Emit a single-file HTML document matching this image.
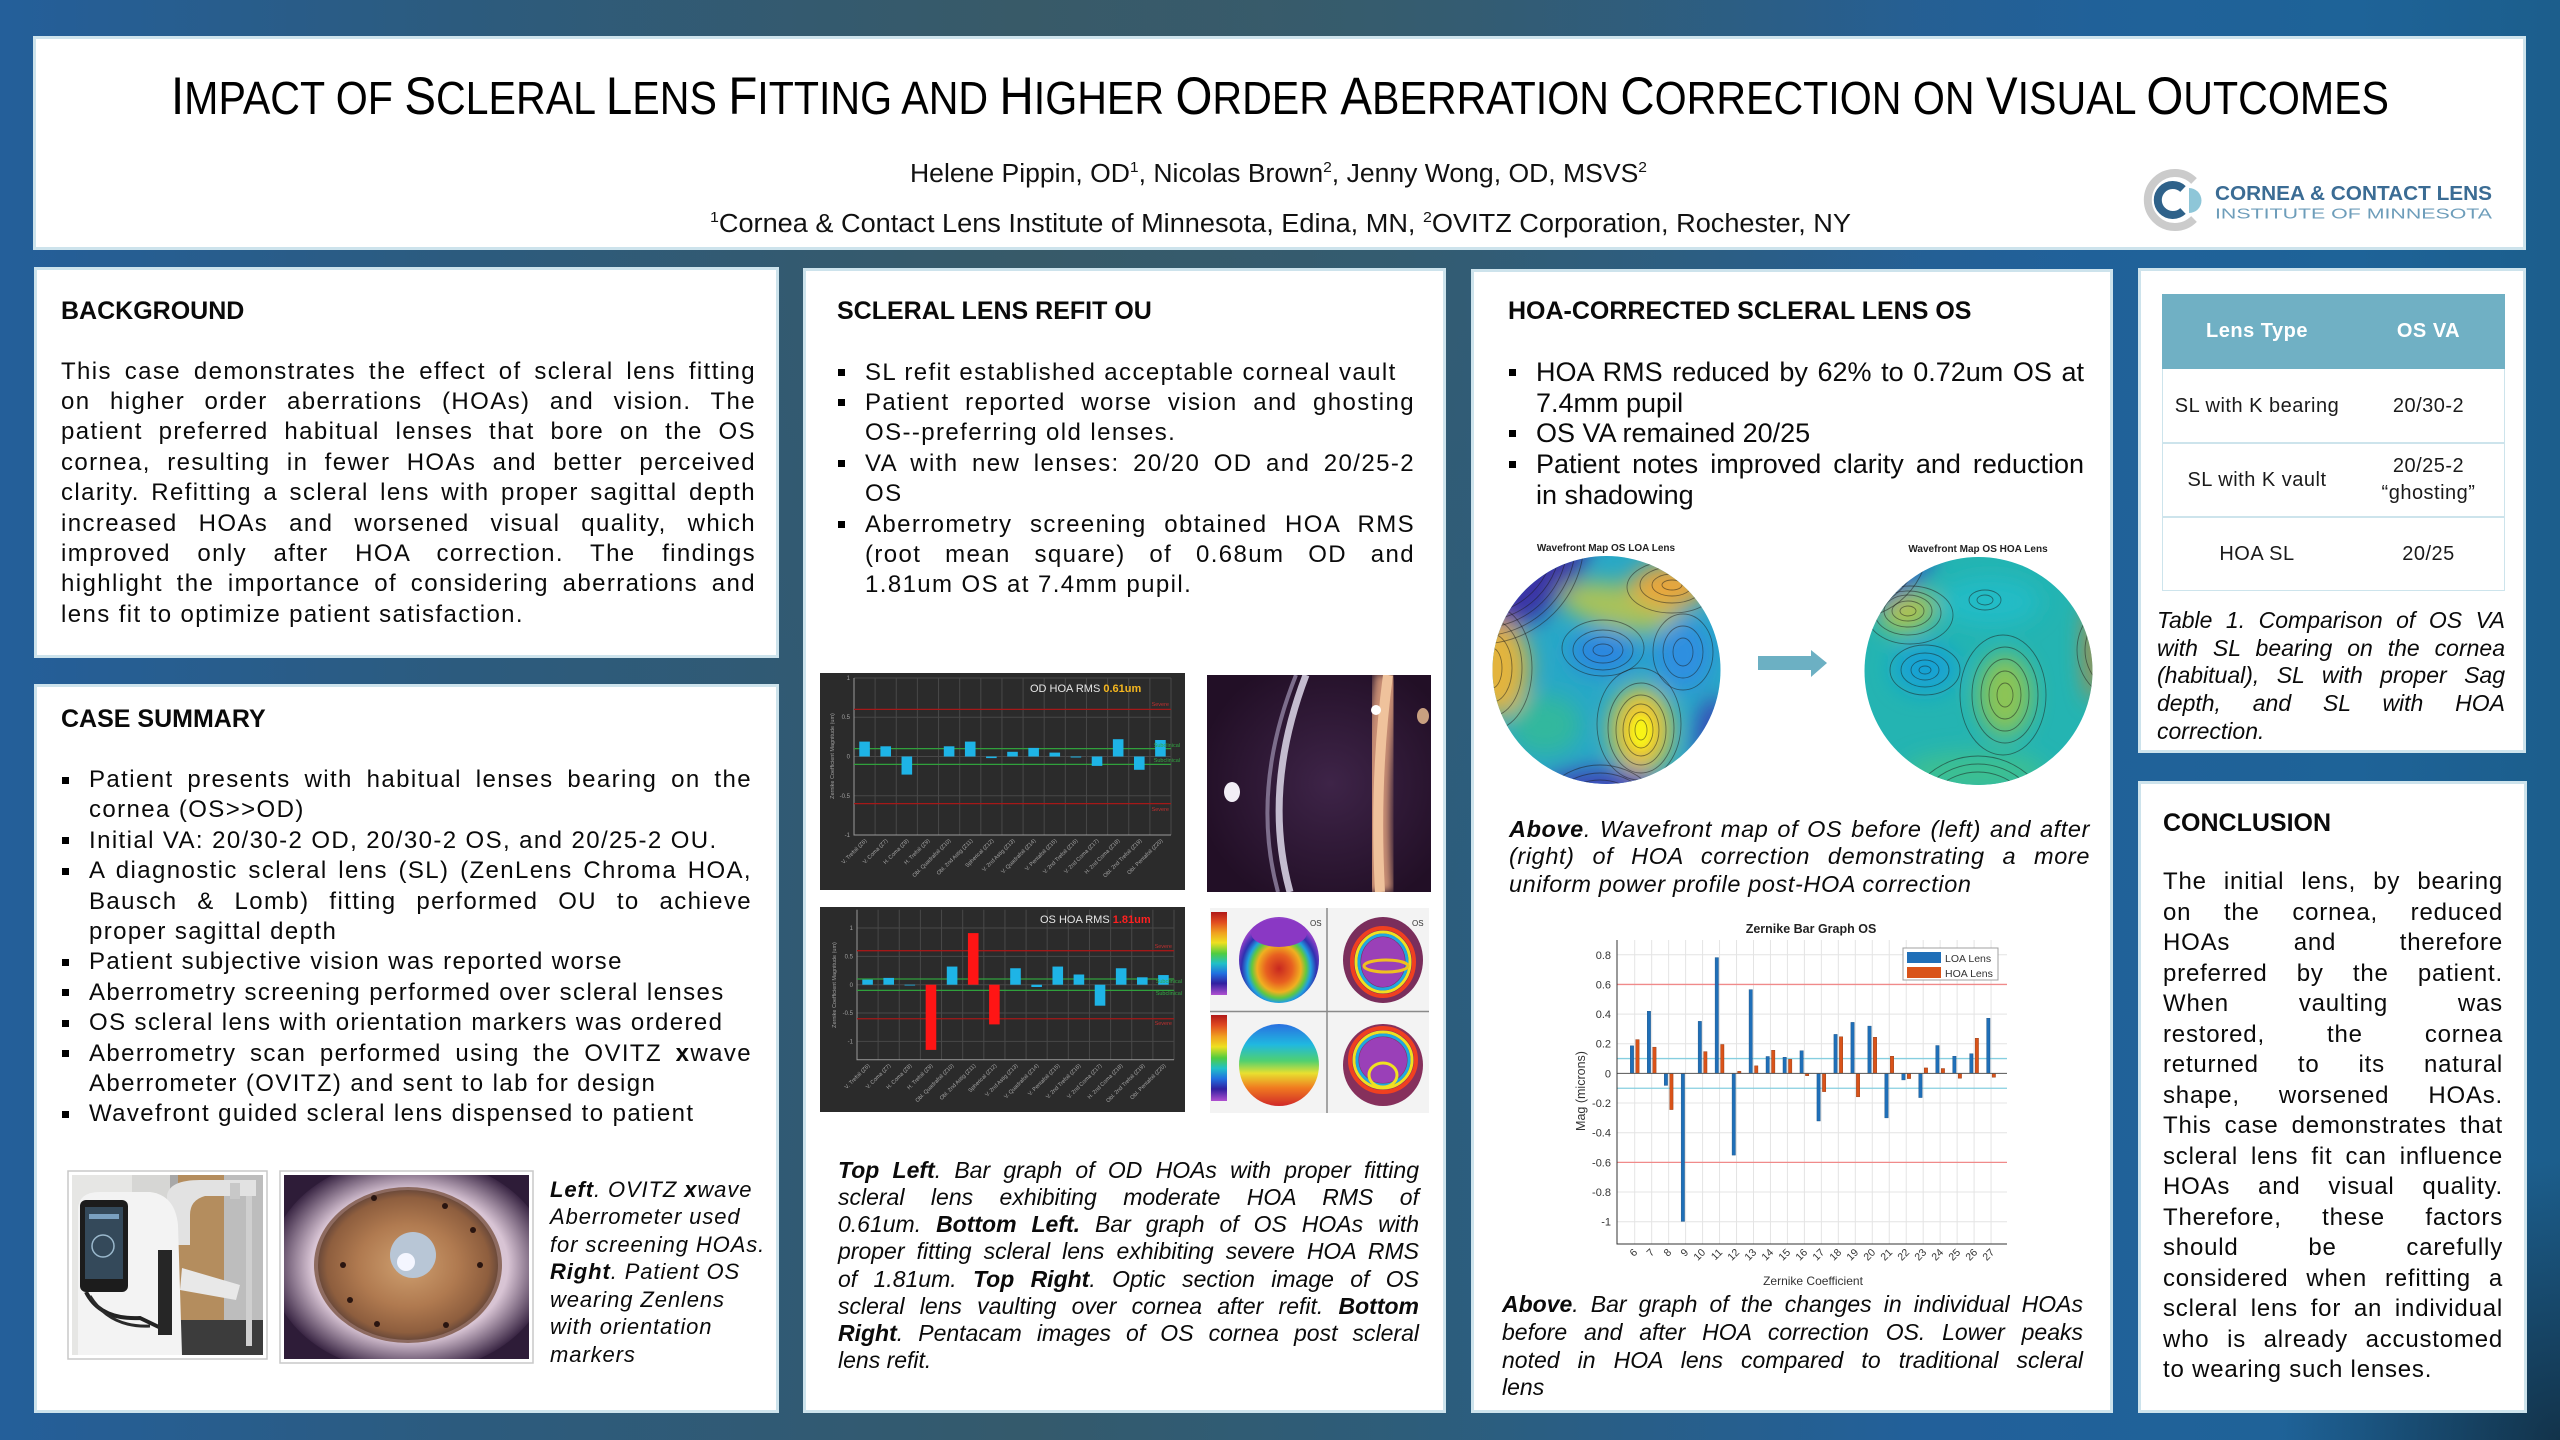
<!DOCTYPE html>
<html><head><meta charset="utf-8"><style>
html,body{margin:0;padding:0}
body{width:2560px;height:1440px;position:relative;overflow:hidden;font-family:"Liberation Sans",Arial,sans-serif;color:#0a0a0a;
background:
radial-gradient(circle at 100% 100%, rgba(16,40,58,.8) 0, rgba(16,40,58,0) 280px),
radial-gradient(ellipse at 50% 0%, rgba(62,90,98,.55) 0, rgba(62,90,98,0) 45%),
linear-gradient(90deg,#245f9a 0%,#2c5b7e 18%,#345a6c 40%,#2d5d7a 55%,#22609a 75%,#1e6398 92%,#1c5e8c 100%);}
.p{position:absolute;background:#fff;border:3px solid #cde3ec;box-sizing:border-box}
.a{position:absolute}
.hd{font-weight:700;font-size:25px;line-height:30px;white-space:nowrap}
.bd{font-size:24px;line-height:30.4px;letter-spacing:1.4px}
.bd div,.cap div{text-align:justify;text-align-last:justify}
.bd div.l,.cap div.l{text-align-last:left}
.li{position:relative}
.li::before{content:"";position:absolute;left:-27px;top:11.5px;width:7px;height:7px;background:#000}
.cap{font-style:italic}
.th{color:#fff;font-weight:700;font-size:20px;text-align:center;letter-spacing:.5px}
.td{font-size:20px;text-align:center;color:#1a1a1a;letter-spacing:.5px}
</style></head><body>

<div class="p" style="left:33px;top:36px;width:2493px;height:214px"></div>
<div class="p" style="left:34px;top:267px;width:745px;height:391px"></div>
<div class="p" style="left:34px;top:684px;width:745px;height:729px"></div>
<div class="p" style="left:803px;top:268px;width:643px;height:1145px"></div>
<div class="p" style="left:1471px;top:269px;width:642px;height:1144px"></div>
<div class="p" style="left:2138px;top:268px;width:388px;height:485px"></div>
<div class="p" style="left:2138px;top:781px;width:389px;height:632px"></div>

<svg class="a" style="left:0;top:0" width="2560" height="1440" viewBox="0 0 2560 1440" xmlns="http://www.w3.org/2000/svg" font-family="Liberation Sans, Arial, sans-serif">
<defs>
<filter id="bl" x="-50%" y="-50%" width="200%" height="200%"><feGaussianBlur stdDeviation="11"/></filter>
<filter id="bl2" x="-50%" y="-50%" width="200%" height="200%"><feGaussianBlur stdDeviation="4"/></filter>
<clipPath id="cL"><circle cx="1606.5" cy="670" r="114"/></clipPath>
<clipPath id="cR"><circle cx="1978.5" cy="671" r="114"/></clipPath>
<clipPath id="cOpt"><rect x="1207" y="675" width="224" height="217"/></clipPath>
<clipPath id="cP1"><rect x="72" y="1175" width="191" height="180"/></clipPath>
<clipPath id="cP2"><rect x="284" y="1175" width="245" height="184"/></clipPath>
<linearGradient id="cbar" x1="0" y1="0" x2="0" y2="1">
<stop offset="0" stop-color="#b01818"/><stop offset=".12" stop-color="#e04a20"/><stop offset=".25" stop-color="#f0a020"/><stop offset=".37" stop-color="#eee020"/><stop offset=".5" stop-color="#50cc40"/><stop offset=".62" stop-color="#20c0c8"/><stop offset=".74" stop-color="#2070e0"/><stop offset=".86" stop-color="#3020a0"/><stop offset="1" stop-color="#b050d0"/></linearGradient>
<radialGradient id="tlE" cx=".5" cy=".6" r=".55"><stop offset="0" stop-color="#c82820"/><stop offset=".3" stop-color="#e86020"/><stop offset=".5" stop-color="#f0b020"/><stop offset=".62" stop-color="#60c840"/><stop offset=".72" stop-color="#20a0e0"/><stop offset=".85" stop-color="#3030b0"/><stop offset="1" stop-color="#9040c8"/></radialGradient>
<linearGradient id="blE" x1="0" y1="0" x2="0" y2="1"><stop offset="0" stop-color="#2a70e0"/><stop offset=".25" stop-color="#20b8e0"/><stop offset=".45" stop-color="#50d070"/><stop offset=".6" stop-color="#e8e030"/><stop offset=".78" stop-color="#f07a20"/><stop offset="1" stop-color="#d02828"/></linearGradient>
<radialGradient id="iris" cx=".5" cy=".5" r=".5"><stop offset="0" stop-color="#cfa070"/><stop offset=".55" stop-color="#b07a50"/><stop offset=".9" stop-color="#8e5e3e"/><stop offset="1" stop-color="#6c4a3a"/></radialGradient>
<radialGradient id="scl" cx=".5" cy=".5" r=".5"><stop offset="0" stop-color="#ecdfe8"/><stop offset=".7" stop-color="#d8c4d4"/><stop offset="1" stop-color="#3a2644"/></radialGradient>
<radialGradient id="optg" cx=".55" cy=".5" r=".6"><stop offset="0" stop-color="#3e2448"/><stop offset="1" stop-color="#220f26"/></radialGradient>
</defs>

<!-- Title -->
<text x="171" y="114" font-size="53" textLength="2218" lengthAdjust="spacingAndGlyphs" fill="#000">I<tspan font-size="46">MPACT OF </tspan>S<tspan font-size="46">CLERAL </tspan>L<tspan font-size="46">ENS </tspan>F<tspan font-size="46">ITTING AND </tspan>H<tspan font-size="46">IGHER </tspan>O<tspan font-size="46">RDER </tspan>A<tspan font-size="46">BERRATION </tspan>C<tspan font-size="46">ORRECTION ON </tspan>V<tspan font-size="46">ISUAL </tspan>O<tspan font-size="46">UTCOMES</tspan></text>
<text x="910" y="182" font-size="25.5" textLength="737" lengthAdjust="spacingAndGlyphs" fill="#111">Helene Pippin, OD<tspan font-size="15" dy="-10">1</tspan><tspan dy="10">, Nicolas Brown</tspan><tspan font-size="15" dy="-10">2</tspan><tspan dy="10">, Jenny Wong, OD, MSVS</tspan><tspan font-size="15" dy="-10">2</tspan></text>
<text x="710" y="232" font-size="25.5" textLength="1141" lengthAdjust="spacingAndGlyphs" fill="#111"><tspan font-size="15" dy="-10">1</tspan><tspan dy="10">Cornea &amp; Contact Lens Institute of Minnesota, Edina, MN, </tspan><tspan font-size="15" dy="-10">2</tspan><tspan dy="10">OVITZ Corporation, Rochester, NY</tspan></text>

<!-- Logo -->
<path d="M2194 181 A27 27 0 1 0 2194 219" fill="none" stroke="#cbcbcb" stroke-width="8"/>
<path d="M2183 189 A15 15 0 1 0 2183 211" fill="none" stroke="#2f628a" stroke-width="8"/>
<path d="M2189 188 A12.5 12.5 0 0 1 2189 213 Z" fill="#8ec6d8"/>
<text x="2215" y="200" font-size="20.5" font-weight="bold" fill="#3b6c94" textLength="277" lengthAdjust="spacingAndGlyphs">CORNEA &amp; CONTACT LENS</text>
<text x="2215" y="218.5" font-size="15" fill="#6d9dba" textLength="277" lengthAdjust="spacingAndGlyphs">INSTITUTE OF MINNESOTA</text>

<!-- Photo 1: aberrometer -->
<rect x="68" y="1171" width="199" height="188" fill="#fff" stroke="#c8c8c8" stroke-width="1.5"/>
<g clip-path="url(#cP1)">
<rect x="72" y="1175" width="191" height="180" fill="#d6d6d4"/>
<rect x="72" y="1175" width="60" height="180" fill="#e6e6e4"/>
<rect x="170" y="1175" width="8" height="160" fill="#a8a8a8"/>
<rect x="178" y="1175" width="46" height="150" fill="#b48d5e"/>
<rect x="224" y="1175" width="39" height="150" fill="#bdbdbd"/>
<rect x="150" y="1320" width="113" height="35" fill="#3c3c3c"/>
<path d="M167 1195 Q170 1180 200 1180 L256 1180 L256 1196 L205 1196 Q190 1200 190 1215 L190 1245 L167 1245 Z" fill="#e2e2e2"/>
<rect x="230" y="1183" width="10" height="16" fill="#c8c8c8"/>
<rect x="246" y="1196" width="6" height="150" fill="#cfcfcf"/>
<path d="M78 1210 Q78 1192 100 1192 L150 1192 Q175 1195 178 1225 L182 1355 L78 1355 Z" fill="#f3f3f3"/>
<rect x="80" y="1200" width="48" height="92" rx="6" fill="#1c1c1c"/>
<rect x="85" y="1207" width="38" height="72" fill="#34495a"/>
<circle cx="103" cy="1246" r="11" fill="none" stroke="#9ab8cc" stroke-width="1.5"/>
<rect x="89" y="1214" width="30" height="5" fill="#7aa0c0"/>
<path d="M86 1292 Q100 1320 140 1318 L165 1330" stroke="#222" stroke-width="4" fill="none"/>
<path d="M90 1296 Q110 1328 150 1326" stroke="#2a2a2a" stroke-width="3" fill="none"/>
<rect x="158" y="1250" width="14" height="85" fill="#262626"/>
<path d="M182 1268 L240 1285 L236 1300 L180 1290 Z" fill="#e8e8e8"/>
</g>

<!-- Photo 2: eye -->
<rect x="280" y="1171" width="253" height="192" fill="#fff" stroke="#c8c8c8" stroke-width="1.5"/>
<g clip-path="url(#cP2)">
<rect x="284" y="1175" width="245" height="184" fill="#2e1c38"/>
<ellipse cx="410" cy="1265" rx="140" ry="108" fill="url(#scl)"/>
<ellipse cx="408" cy="1265" rx="94" ry="78" fill="#7a5442" opacity=".8"/>
<ellipse cx="408" cy="1265" rx="90" ry="75" fill="url(#iris)"/>
<circle cx="413" cy="1255" r="23" fill="#b8c6d6"/>
<circle cx="406" cy="1262" r="9" fill="#f4f6ff"/>
<g fill="#2a1510">
<circle cx="374" cy="1198" r="3"/><circle cx="445" cy="1206" r="3"/><circle cx="473" cy="1230" r="3"/><circle cx="480" cy="1265" r="3"/>
<circle cx="446" cy="1325" r="3"/><circle cx="377" cy="1324" r="3"/><circle cx="350" cy="1300" r="3"/><circle cx="343" cy="1265" r="3"/></g>
</g>

<!-- OD bar chart -->
<rect x="820" y="673" width="365" height="217" fill="#2b2b2b"/>
<path d="M854 678V835M875.13 678V835M896.27 678V835M917.4 678V835M938.53 678V835M959.67 678V835M980.8 678V835M1001.93 678V835M1023.07 678V835M1044.2 678V835M1065.33 678V835M1086.47 678V835M1107.6 678V835M1128.73 678V835M1149.87 678V835M1171 678V835M854 678H1171M854 717.25H1171M854 756.5H1171M854 795.75H1171" stroke="#484848" stroke-width="1"/>
<path d="M854 678V835H1171" stroke="#9a9a9a" stroke-width="1" fill="none"/>
<path d="M854 709.4H1171M854 803.6H1171" stroke="#a51818" stroke-width="1.3"/>
<path d="M854 748.65H1171M854 764.35H1171" stroke="#30a03c" stroke-width="1.2"/>
<g fill="#1eb4e6">
<rect x="859.27" y="741.6" width="10.6" height="14.9"/><rect x="880.4" y="746.3" width="10.6" height="10.2"/><rect x="901.53" y="756.5" width="10.6" height="18.1"/>
<rect x="943.8" y="746.3" width="10.6" height="10.2"/><rect x="964.93" y="741.6" width="10.6" height="14.9"/><rect x="986.07" y="756.5" width="10.6" height="1.6"/>
<rect x="1007.2" y="751.8" width="10.6" height="4.7"/><rect x="1028.33" y="747.9" width="10.6" height="8.6"/><rect x="1049.47" y="752.6" width="10.6" height="3.9"/>
<rect x="1070.6" y="756.5" width="10.6" height="1"/><rect x="1091.73" y="756.5" width="10.6" height="9.4"/><rect x="1112.87" y="739.2" width="10.6" height="17.3"/>
<rect x="1134" y="756.5" width="10.6" height="13.3"/><rect x="1155.13" y="740" width="10.6" height="16.5"/></g>
<g font-size="5.5" fill="#c03030" text-anchor="end"><text x="1169" y="706">Severe</text><text x="1169" y="811">Severe</text></g>
<g font-size="5.5" fill="#34a844" text-anchor="end"><text x="1180" y="747">Subclinical</text><text x="1180" y="762">Subclinical</text></g>
<g font-size="6" fill="#a0a0a0" text-anchor="end"><text x="850" y="680">1</text><text x="850" y="719">0.5</text><text x="850" y="758.5">0</text><text x="850" y="798">-0.5</text><text x="850" y="837">-1</text></g>
<text transform="translate(834,756) rotate(-90)" font-size="5.5" fill="#a0a0a0" text-anchor="middle">Zernike Coefficient Magnitude (um)</text>
<g font-size="5.5" fill="#a8a8a8" text-anchor="end">
<text transform="translate(867,841) rotate(-45)">V. Trefoil (Z6)</text>
<text transform="translate(888,841) rotate(-45)">V. Coma (Z7)</text>
<text transform="translate(909,841) rotate(-45)">H. Coma (Z8)</text>
<text transform="translate(930,841) rotate(-45)">H. Trefoil (Z9)</text>
<text transform="translate(951,841) rotate(-45)">Obl. Quadrafoil (Z10)</text>
<text transform="translate(973,841) rotate(-45)">Obl. 2nd Astig (Z11)</text>
<text transform="translate(994,841) rotate(-45)">Spherical (Z12)</text>
<text transform="translate(1015,841) rotate(-45)">V. 2nd Astig (Z13)</text>
<text transform="translate(1036,841) rotate(-45)">V. Quadrafoil (Z14)</text>
<text transform="translate(1057,841) rotate(-45)">V. Pentafoil (Z15)</text>
<text transform="translate(1078,841) rotate(-45)">V. 2nd Trefoil (Z16)</text>
<text transform="translate(1099,841) rotate(-45)">V. 2nd Coma (Z17)</text>
<text transform="translate(1120,841) rotate(-45)">H. 2nd Coma (Z18)</text>
<text transform="translate(1142,841) rotate(-45)">Obl. 2nd Trefoil (Z19)</text>
<text transform="translate(1163,841) rotate(-45)">Obl. Pentafoil (Z20)</text></g>
<text x="1030" y="692" font-size="11" fill="#e6e6e6">OD HOA RMS <tspan fill="#f5b71f" font-weight="bold">0.61um</tspan></text>

<!-- OS bar chart -->
<rect x="820" y="907" width="365" height="205" fill="#2b2b2b"/>
<path d="M857 909.7V1059.7M878.13 909.7V1059.7M899.27 909.7V1059.7M920.4 909.7V1059.7M941.53 909.7V1059.7M962.67 909.7V1059.7M983.8 909.7V1059.7M1004.93 909.7V1059.7M1026.07 909.7V1059.7M1047.2 909.7V1059.7M1068.33 909.7V1059.7M1089.47 909.7V1059.7M1110.6 909.7V1059.7M1131.73 909.7V1059.7M1152.87 909.7V1059.7M1174 909.7V1059.7M857 928H1174M857 956.35H1174M857 984.7H1174M857 1013.05H1174M857 1041.4H1174" stroke="#484848" stroke-width="1"/>
<path d="M857 909.7V1059.7H1174" stroke="#9a9a9a" stroke-width="1" fill="none"/>
<path d="M857 950.68H1174M857 1018.72H1174" stroke="#a51818" stroke-width="1.3"/>
<path d="M857 979.03H1174M857 990.37H1174" stroke="#30a03c" stroke-width="1.2"/>
<g fill="#1eb4e6">
<rect x="862.27" y="979.6" width="10.6" height="5.1"/><rect x="883.4" y="977.9" width="10.6" height="6.8"/><rect x="904.53" y="984.7" width="10.6" height="0.8"/>
<rect x="946.8" y="966.56" width="10.6" height="18.14"/><rect x="1010.2" y="968.26" width="10.6" height="16.44"/><rect x="1031.33" y="984.7" width="10.6" height="2.3"/>
<rect x="1052.47" y="966.56" width="10.6" height="18.14"/><rect x="1073.6" y="974.5" width="10.6" height="10.2"/><rect x="1094.73" y="984.7" width="10.6" height="21"/>
<rect x="1115.87" y="968.26" width="10.6" height="16.44"/><rect x="1137" y="977.3" width="10.6" height="7.4"/><rect x="1158.13" y="975.06" width="10.6" height="9.64"/></g>
<g fill="#ff1515"><rect x="925.67" y="984.7" width="10.6" height="65.2"/><rect x="967.93" y="933.1" width="10.6" height="51.6"/><rect x="989.07" y="984.7" width="10.6" height="39.7"/></g>
<g font-size="5.5" fill="#c03030" text-anchor="end"><text x="1172" y="948">Severe</text><text x="1172" y="1025">Severe</text></g>
<g font-size="5.5" fill="#34a844" text-anchor="end"><text x="1182" y="983">Subclinical</text><text x="1182" y="995">Subclinical</text></g>
<g font-size="6" fill="#a0a0a0" text-anchor="end"><text x="853" y="930">1</text><text x="853" y="958.5">0.5</text><text x="853" y="987">0</text><text x="853" y="1015">-0.5</text><text x="853" y="1043.5">-1</text></g>
<text transform="translate(836,985) rotate(-90)" font-size="5.5" fill="#a0a0a0" text-anchor="middle">Zernike Coefficient Magnitude (um)</text>
<g font-size="5.5" fill="#a8a8a8" text-anchor="end">
<text transform="translate(870,1066) rotate(-45)">V. Trefoil (Z6)</text>
<text transform="translate(891,1066) rotate(-45)">V. Coma (Z7)</text>
<text transform="translate(912,1066) rotate(-45)">H. Coma (Z8)</text>
<text transform="translate(933,1066) rotate(-45)">H. Trefoil (Z9)</text>
<text transform="translate(954,1066) rotate(-45)">Obl. Quadrafoil (Z10)</text>
<text transform="translate(976,1066) rotate(-45)">Obl. 2nd Astig (Z11)</text>
<text transform="translate(997,1066) rotate(-45)">Spherical (Z12)</text>
<text transform="translate(1018,1066) rotate(-45)">V. 2nd Astig (Z13)</text>
<text transform="translate(1039,1066) rotate(-45)">V. Quadrafoil (Z14)</text>
<text transform="translate(1060,1066) rotate(-45)">V. Pentafoil (Z15)</text>
<text transform="translate(1081,1066) rotate(-45)">V. 2nd Trefoil (Z16)</text>
<text transform="translate(1102,1066) rotate(-45)">V. 2nd Coma (Z17)</text>
<text transform="translate(1123,1066) rotate(-45)">H. 2nd Coma (Z18)</text>
<text transform="translate(1145,1066) rotate(-45)">Obl. 2nd Trefoil (Z19)</text>
<text transform="translate(1166,1066) rotate(-45)">Obl. Pentafoil (Z20)</text></g>
<text x="1040" y="923" font-size="11" fill="#e6e6e6">OS HOA RMS <tspan fill="#ff2020" font-weight="bold">1.81um</tspan></text>

<!-- Optic section photo -->
<g clip-path="url(#cOpt)">
<rect x="1207" y="675" width="224" height="217" fill="url(#optg)"/>
<path d="M1296 675 Q1250 790 1278 892" stroke="#7d6e8c" stroke-width="4" fill="none"/>
<path d="M1306 675 Q1262 790 1290 892" stroke="#c4bccf" stroke-width="7" fill="none"/>
<path d="M1388 675 Q1372 780 1380 892" stroke="#c98f74" stroke-width="26" fill="none" filter="url(#bl2)"/>
<path d="M1388 675 Q1374 780 1380 892" stroke="#efc29c" stroke-width="10" fill="none"/>
<ellipse cx="1232" cy="792" rx="8" ry="10" fill="#f2eef6"/>
<circle cx="1376" cy="710" r="5" fill="#fff"/>
<ellipse cx="1423" cy="716" rx="6" ry="8" fill="#c8a080"/>
</g>

<!-- Pentacam -->
<rect x="1210" y="908" width="219" height="205" fill="#f3f3f3"/>
<path d="M1327 908V1113M1210 1011.5H1429" stroke="#8a8a8a" stroke-width="1.5"/>
<rect x="1211" y="912" width="16" height="83" fill="url(#cbar)"/>
<rect x="1211" y="1015" width="16" height="86" fill="url(#cbar)"/>
<ellipse cx="1279" cy="960" rx="40" ry="43" fill="url(#tlE)"/>
<ellipse cx="1279" cy="933" rx="28" ry="14" fill="#8a38c4"/>
<ellipse cx="1383" cy="960" rx="40" ry="43" fill="#7a2e5c"/>
<ellipse cx="1383" cy="962" rx="31" ry="34" fill="none" stroke="#f04020" stroke-width="4"/>
<ellipse cx="1383" cy="962" rx="27" ry="30" fill="none" stroke="#f0e020" stroke-width="3"/>
<ellipse cx="1383" cy="962" rx="24" ry="27" fill="none" stroke="#20a8e0" stroke-width="3"/>
<ellipse cx="1383" cy="962" rx="22" ry="25" fill="#9a40b8"/>
<ellipse cx="1386" cy="966" rx="22" ry="6" fill="none" stroke="#f0c020" stroke-width="3"/>
<ellipse cx="1279" cy="1065" rx="40" ry="41" fill="url(#blE)"/>
<ellipse cx="1383" cy="1065" rx="40" ry="41" fill="#86305c"/>
<ellipse cx="1383" cy="1060" rx="33" ry="32" fill="none" stroke="#f04020" stroke-width="4"/>
<ellipse cx="1383" cy="1060" rx="29" ry="28" fill="none" stroke="#f0e020" stroke-width="3"/>
<ellipse cx="1383" cy="1060" rx="26" ry="25" fill="none" stroke="#20a8e0" stroke-width="3"/>
<ellipse cx="1383" cy="1060" rx="24" ry="23" fill="#9a40b8"/>
<ellipse cx="1383" cy="1075" rx="14" ry="12" fill="none" stroke="#f0e020" stroke-width="3"/>
<g font-size="8" fill="#333"><text x="1310" y="926">OS</text><text x="1412" y="926">OS</text></g>

<!-- Wavefront maps -->
<g clip-path="url(#cL)">
<rect x="1490" y="554" width="235" height="235" fill="#28a8c6"/>
<g filter="url(#bl)">
<ellipse cx="1525" cy="578" rx="75" ry="40" transform="rotate(-40 1525 578)" fill="#3a36a6"/>
<ellipse cx="1497" cy="668" rx="32" ry="48" fill="#e3b43c"/>
<ellipse cx="1620" cy="607" rx="62" ry="22" transform="rotate(12 1620 607)" fill="#a9c25a"/>
<ellipse cx="1670" cy="586" rx="40" ry="22" fill="#eaa63a"/>
<ellipse cx="1603" cy="652" rx="34" ry="22" fill="#2a86e0"/>
<ellipse cx="1683" cy="655" rx="30" ry="36" fill="#2d8fe0"/>
<ellipse cx="1545" cy="725" rx="36" ry="30" fill="#30b89e"/>
<ellipse cx="1641" cy="730" rx="30" ry="42" fill="#f0c830"/>
<ellipse cx="1600" cy="790" rx="62" ry="22" fill="#3c48b8"/>
<ellipse cx="1714" cy="742" rx="18" ry="45" fill="#3747b5"/>
</g>
<ellipse cx="1641" cy="732" rx="11" ry="17" fill="#f8f418" filter="url(#bl2)"/>
<g fill="none" stroke="#1a1a1a" stroke-opacity=".5" stroke-width=".9">
<ellipse cx="1641" cy="730" rx="6" ry="10"/><ellipse cx="1641" cy="730" rx="12" ry="18"/><ellipse cx="1641" cy="730" rx="18" ry="26"/><ellipse cx="1641" cy="730" rx="25" ry="35"/><ellipse cx="1641" cy="728" rx="33" ry="45"/><ellipse cx="1639" cy="724" rx="42" ry="56"/>
<ellipse cx="1603" cy="650" rx="10" ry="6"/><ellipse cx="1603" cy="650" rx="20" ry="13"/><ellipse cx="1603" cy="650" rx="30" ry="20"/><ellipse cx="1603" cy="648" rx="41" ry="28"/>
<ellipse cx="1683" cy="652" rx="10" ry="14"/><ellipse cx="1683" cy="652" rx="20" ry="26"/><ellipse cx="1683" cy="652" rx="30" ry="38"/>
<ellipse cx="1492" cy="668" rx="10" ry="20"/><ellipse cx="1492" cy="668" rx="20" ry="34"/><ellipse cx="1492" cy="668" rx="30" ry="48"/><ellipse cx="1492" cy="668" rx="40" ry="62"/>
<ellipse cx="1672" cy="585" rx="10" ry="5"/><ellipse cx="1672" cy="585" rx="20" ry="11"/><ellipse cx="1672" cy="585" rx="32" ry="18"/><ellipse cx="1672" cy="587" rx="45" ry="26"/>
<circle cx="1480" cy="540" r="60"/><circle cx="1480" cy="540" r="67"/><circle cx="1480" cy="540" r="74"/><circle cx="1480" cy="540" r="81"/><circle cx="1480" cy="540" r="88"/><circle cx="1480" cy="540" r="96"/><circle cx="1480" cy="540" r="104"/>
<circle cx="1600" cy="835" r="48"/><circle cx="1600" cy="835" r="55"/><circle cx="1600" cy="835" r="62"/><circle cx="1600" cy="835" r="70"/>
<circle cx="1760" cy="760" r="40"/><circle cx="1760" cy="760" r="48"/><circle cx="1760" cy="760" r="56"/>
</g>
</g>
<g clip-path="url(#cR)">
<rect x="1862" y="555" width="235" height="235" fill="#24b4b2"/>
<g filter="url(#bl)">
<ellipse cx="1888" cy="572" rx="55" ry="26" transform="rotate(-35 1888 572)" fill="#2d5cc0"/>
<ellipse cx="1990" cy="602" rx="50" ry="24" fill="#20bcc6"/>
<ellipse cx="1908" cy="612" rx="28" ry="18" transform="rotate(-20 1908 612)" fill="#b5c44a"/>
<ellipse cx="1925" cy="668" rx="32" ry="25" fill="#12a2d4"/>
<ellipse cx="2005" cy="695" rx="26" ry="40" fill="#8cc455"/>
<ellipse cx="2094" cy="650" rx="10" ry="52" fill="#b9893a"/>
<ellipse cx="1975" cy="772" rx="72" ry="20" fill="#3cc092"/>
</g>
<g fill="none" stroke="#1a1a1a" stroke-opacity=".5" stroke-width=".9">
<ellipse cx="1908" cy="611" rx="8" ry="5"/><ellipse cx="1908" cy="611" rx="16" ry="10"/><ellipse cx="1908" cy="611" rx="24" ry="16"/><ellipse cx="1908" cy="613" rx="33" ry="22"/><ellipse cx="1910" cy="615" rx="43" ry="29"/>
<ellipse cx="2005" cy="695" rx="8" ry="12"/><ellipse cx="2005" cy="695" rx="16" ry="24"/><ellipse cx="2005" cy="695" rx="24" ry="36"/><ellipse cx="2005" cy="695" rx="33" ry="48"/><ellipse cx="2003" cy="695" rx="43" ry="60"/>
<ellipse cx="1925" cy="670" rx="6" ry="4"/><ellipse cx="1925" cy="670" rx="14" ry="10"/><ellipse cx="1925" cy="670" rx="24" ry="17"/><ellipse cx="1925" cy="670" rx="35" ry="25"/>
<ellipse cx="1985" cy="600" rx="8" ry="5"/><ellipse cx="1985" cy="600" rx="16" ry="10"/>
<circle cx="1850" cy="540" r="55"/><circle cx="1850" cy="540" r="63"/><circle cx="1850" cy="540" r="71"/><circle cx="1850" cy="540" r="79"/>
<circle cx="1978" cy="832" r="60"/><circle cx="1978" cy="832" r="68"/><circle cx="1978" cy="832" r="76"/>
<circle cx="2130" cy="650" r="45"/><circle cx="2130" cy="650" r="53"/>
</g>
</g>
<text x="1606" y="551" font-size="10" font-weight="bold" text-anchor="middle" fill="#222">Wavefront Map OS LOA Lens</text>
<text x="1978" y="552" font-size="10" font-weight="bold" text-anchor="middle" fill="#222">Wavefront Map OS HOA Lens</text>
<polygon points="1758,656 1811,656 1811,650 1827,663 1811,677 1811,670 1758,670" fill="#6cb0c3"/>

<!-- Zernike bar graph -->
<text x="1811" y="933" font-size="12.5" font-weight="bold" text-anchor="middle" fill="#222">Zernike Bar Graph OS</text>
<path d="M1634.7 940V1244M1651.67 940V1244M1668.64 940V1244M1685.61 940V1244M1702.58 940V1244M1719.55 940V1244M1736.52 940V1244M1753.49 940V1244M1770.46 940V1244M1787.43 940V1244M1804.4 940V1244M1821.37 940V1244M1838.34 940V1244M1855.31 940V1244M1872.28 940V1244M1889.25 940V1244M1906.22 940V1244M1923.19 940V1244M1940.16 940V1244M1957.13 940V1244M1974.1 940V1244M1991.07 940V1244M1617 954.76H2007M1617 1014.08H2007M1617 1043.74H2007M1617 1103.06H2007M1617 1132.72H2007M1617 1192.04H2007M1617 1221.7H2007" stroke="#e4e4e4" stroke-width="1"/>
<path d="M1617 984.42H2007M1617 1162.38H2007" stroke="#f08a8a" stroke-width="1.3"/>
<path d="M1617 1058.57H2007M1617 1088.23H2007" stroke="#86cfe0" stroke-width="1.3"/>
<g fill="#1f6fb8" stroke="#184f80" stroke-width=".4">
<rect x="1630.25" y="1045.82" width="3.4" height="27.58"/><rect x="1647.22" y="1011.26" width="3.4" height="62.14"/><rect x="1664.19" y="1073.4" width="3.4" height="12.01"/><rect x="1681.16" y="1073.4" width="3.4" height="148"/>
<rect x="1698.13" y="1021.35" width="3.4" height="52.05"/><rect x="1715.1" y="957.58" width="3.4" height="115.82"/><rect x="1732.07" y="1073.4" width="3.4" height="81.71"/><rect x="1749.04" y="989.61" width="3.4" height="83.79"/>
<rect x="1766.01" y="1056.49" width="3.4" height="16.91"/><rect x="1782.98" y="1057.24" width="3.4" height="16.16"/><rect x="1799.95" y="1050.71" width="3.4" height="22.69"/><rect x="1816.92" y="1073.4" width="3.4" height="47.6"/>
<rect x="1833.89" y="1034.4" width="3.4" height="39"/><rect x="1850.86" y="1022.38" width="3.4" height="51.02"/><rect x="1867.83" y="1026.09" width="3.4" height="47.31"/><rect x="1884.8" y="1073.4" width="3.4" height="44.49"/>
<rect x="1901.77" y="1073.4" width="3.4" height="6.53"/><rect x="1918.74" y="1073.4" width="3.4" height="24.17"/><rect x="1935.71" y="1045.52" width="3.4" height="27.88"/><rect x="1952.68" y="1056.2" width="3.4" height="17.2"/>
<rect x="1969.65" y="1053.68" width="3.4" height="19.72"/><rect x="1986.62" y="1018.23" width="3.4" height="55.17"/></g>
<g fill="#d95319" stroke="#8a3410" stroke-width=".4">
<rect x="1635.75" y="1039.59" width="3.4" height="33.81"/><rect x="1652.72" y="1047.15" width="3.4" height="26.25"/><rect x="1669.69" y="1073.4" width="3.4" height="36.19"/>
<rect x="1703.63" y="1051.6" width="3.4" height="21.8"/><rect x="1720.6" y="1044.48" width="3.4" height="28.92"/><rect x="1737.57" y="1071.32" width="3.4" height="2.08"/><rect x="1754.54" y="1065.84" width="3.4" height="7.56"/>
<rect x="1771.51" y="1050.27" width="3.4" height="23.13"/><rect x="1788.48" y="1059.31" width="3.4" height="14.09"/><rect x="1805.45" y="1073.4" width="3.4" height="2.37"/><rect x="1822.42" y="1073.4" width="3.4" height="18.24"/>
<rect x="1839.39" y="1036.77" width="3.4" height="36.63"/><rect x="1856.36" y="1073.4" width="3.4" height="23.43"/><rect x="1873.33" y="1037.21" width="3.4" height="36.19"/><rect x="1890.3" y="1056.2" width="3.4" height="17.2"/>
<rect x="1907.27" y="1073.4" width="3.4" height="5.19"/><rect x="1924.24" y="1067.91" width="3.4" height="5.49"/><rect x="1941.21" y="1068.51" width="3.4" height="4.89"/><rect x="1958.18" y="1073.4" width="3.4" height="4.89"/>
<rect x="1975.15" y="1038.25" width="3.4" height="35.15"/><rect x="1992.12" y="1073.4" width="3.4" height="3.86"/></g>
<path d="M1617 1073.4H2007" stroke="#555" stroke-width="1"/>
<path d="M1617 940V1244H2007" stroke="#333" stroke-width="1" fill="none"/>
<g font-size="11" fill="#333" text-anchor="end">
<text x="1611" y="958.8">0.8</text><text x="1611" y="988.4">0.6</text><text x="1611" y="1018">0.4</text><text x="1611" y="1047.7">0.2</text><text x="1611" y="1077.4">0</text>
<text x="1611" y="1107">-0.2</text><text x="1611" y="1136.7">-0.4</text><text x="1611" y="1166.4">-0.6</text><text x="1611" y="1196">-0.8</text><text x="1611" y="1225.7">-1</text></g>
<g font-size="10.5" fill="#333" text-anchor="end">
<text transform="translate(1638,1253) rotate(-45)">6</text><text transform="translate(1655,1253) rotate(-45)">7</text><text transform="translate(1672,1253) rotate(-45)">8</text><text transform="translate(1689,1253) rotate(-45)">9</text>
<text transform="translate(1706,1253) rotate(-45)">10</text><text transform="translate(1723,1253) rotate(-45)">11</text><text transform="translate(1740,1253) rotate(-45)">12</text><text transform="translate(1757,1253) rotate(-45)">13</text>
<text transform="translate(1774,1253) rotate(-45)">14</text><text transform="translate(1791,1253) rotate(-45)">15</text><text transform="translate(1808,1253) rotate(-45)">16</text><text transform="translate(1825,1253) rotate(-45)">17</text>
<text transform="translate(1842,1253) rotate(-45)">18</text><text transform="translate(1859,1253) rotate(-45)">19</text><text transform="translate(1876,1253) rotate(-45)">20</text><text transform="translate(1893,1253) rotate(-45)">21</text>
<text transform="translate(1910,1253) rotate(-45)">22</text><text transform="translate(1927,1253) rotate(-45)">23</text><text transform="translate(1944,1253) rotate(-45)">24</text><text transform="translate(1961,1253) rotate(-45)">25</text>
<text transform="translate(1978,1253) rotate(-45)">26</text><text transform="translate(1995,1253) rotate(-45)">27</text></g>
<text x="1813" y="1285" font-size="12" fill="#333" text-anchor="middle">Zernike Coefficient</text>
<text transform="translate(1585,1091) rotate(-90)" font-size="12.5" fill="#333" text-anchor="middle">Mag (microns)</text>
<rect x="1903" y="948" width="95" height="32" fill="#fff" stroke="#a0a0a0" stroke-width="1"/>
<rect x="1907" y="952" width="34" height="11" fill="#1f6fb8"/>
<rect x="1907" y="967" width="34" height="11" fill="#d95319"/>
<text x="1945" y="962" font-size="10.5" fill="#333">LOA Lens</text>
<text x="1945" y="977" font-size="10.5" fill="#333">HOA Lens</text>
</svg>

<!-- Panel 1 -->
<div class="a hd" style="left:61px;top:296px">BACKGROUND</div>
<div class="a bd" style="left:61px;top:356.5px;width:695px">
<div>This case demonstrates the effect of scleral lens fitting</div>
<div>on higher order aberrations (HOAs) and vision. The</div>
<div>patient preferred habitual lenses that bore on the OS</div>
<div>cornea, resulting in fewer HOAs and better perceived</div>
<div>clarity. Refitting a scleral lens with proper sagittal depth</div>
<div>increased HOAs and worsened visual quality, which</div>
<div>improved only after HOA correction. The findings</div>
<div>highlight the importance of considering aberrations and</div>
<div class="l">lens fit to optimize patient satisfaction.</div>
</div>

<!-- Panel 2 -->
<div class="a hd" style="left:61px;top:703.5px">CASE SUMMARY</div>
<div class="a bd" style="left:89px;top:765px;width:663px">
<div class="li"><div>Patient presents with habitual lenses bearing on the</div><div class="l">cornea (OS&gt;&gt;OD)</div></div>
<div class="li"><div class="l">Initial VA: 20/30-2 OD, 20/30-2 OS, and 20/25-2 OU.</div></div>
<div class="li"><div>A diagnostic scleral lens (SL) (ZenLens Chroma HOA,</div><div>Bausch &amp; Lomb) fitting performed OU to achieve</div><div class="l">proper sagittal depth</div></div>
<div class="li"><div class="l">Patient subjective vision was reported worse</div></div>
<div class="li"><div class="l">Aberrometry screening performed over scleral lenses</div></div>
<div class="li"><div class="l">OS scleral lens with orientation markers was ordered</div></div>
<div class="li"><div>Aberrometry scan performed using the OVITZ <b>x</b>wave</div><div class="l">Aberrometer (OVITZ) and sent to lab for design</div></div>
<div class="li"><div class="l">Wavefront guided scleral lens dispensed to patient</div></div>
</div>
<div class="a cap" style="left:550px;top:1175.6px;font-size:22px;line-height:27.5px;letter-spacing:.9px;white-space:nowrap">
<div class="l"><b>Left</b>. OVITZ <b>x</b>wave</div>
<div class="l">Aberrometer used</div>
<div class="l">for screening HOAs.</div>
<div class="l"><b>Right</b>. Patient OS</div>
<div class="l">wearing Zenlens</div>
<div class="l">with orientation</div>
<div class="l">markers</div>
</div>

<!-- Panel 3 -->
<div class="a hd" style="left:837px;top:296px">SCLERAL LENS REFIT OU</div>
<div class="a bd" style="left:865px;top:357.5px;width:550px">
<div class="li"><div class="l">SL refit established acceptable corneal vault</div></div>
<div class="li"><div>Patient reported worse vision and ghosting</div><div class="l">OS--preferring old lenses.</div></div>
<div class="li"><div>VA with new lenses: 20/20 OD and 20/25-2</div><div class="l">OS</div></div>
<div class="li"><div>Aberrometry screening obtained HOA RMS</div><div>(root mean square) of 0.68um OD and</div><div class="l">1.81um OS at 7.4mm pupil.</div></div>
</div>
<div class="a cap" style="left:838px;top:1156.7px;width:581px;font-size:23px;line-height:27.2px">
<div><b>Top Left</b>. Bar graph of OD HOAs with proper fitting</div>
<div>scleral lens exhibiting moderate HOA RMS of</div>
<div>0.61um. <b>Bottom Left.</b> Bar graph of OS HOAs with</div>
<div>proper fitting scleral lens exhibiting severe HOA RMS</div>
<div>of 1.81um. <b>Top Right</b>. Optic section image of OS</div>
<div>scleral lens vaulting over cornea after refit. <b>Bottom</b></div>
<div><b>Right</b>. Pentacam images of OS cornea post scleral</div>
<div class="l">lens refit.</div>
</div>

<!-- Panel 4 -->
<div class="a hd" style="left:1508px;top:296px">HOA-CORRECTED SCLERAL LENS OS</div>
<div class="a" style="left:1536px;top:357.3px;width:548px;font-size:27px;line-height:30.6px">
<div class="li" style="text-align:justify;text-align-last:justify"><div style="text-align-last:justify">HOA RMS reduced by 62% to 0.72um OS at</div><div style="text-align-last:left">7.4mm pupil</div></div>
<div class="li"><div>OS VA remained 20/25</div></div>
<div class="li" style="text-align:justify"><div style="text-align-last:justify">Patient notes improved clarity and reduction</div><div style="text-align-last:left">in shadowing</div></div>
</div>
<div class="a cap" style="left:1509px;top:815.6px;width:581px;font-size:23.5px;line-height:27.7px;letter-spacing:.6px">
<div><b>Above</b>. Wavefront map of OS before (left) and after</div>
<div>(right) of HOA correction demonstrating a more</div>
<div class="l">uniform power profile post-HOA correction</div>
</div>
<div class="a cap" style="left:1502px;top:1291.4px;width:581px;font-size:23px;line-height:27.6px">
<div><b>Above</b>. Bar graph of the changes in individual HOAs</div>
<div>before and after HOA correction OS. Lower peaks</div>
<div>noted in HOA lens compared to traditional scleral</div>
<div class="l">lens</div>
</div>

<!-- Panel 5: table -->
<div class="a" style="left:2162px;top:294px;width:343px;height:75px;background:#70b0c4"></div>
<div class="a th" style="left:2162px;top:294px;width:190px;line-height:75px">Lens Type</div>
<div class="a th" style="left:2352px;top:294px;width:153px;line-height:75px">OS VA</div>
<div class="a" style="left:2162px;top:369px;width:343px;height:222px;border:1.5px solid #cde4ec;border-top:none;box-sizing:border-box"></div>
<div class="a" style="left:2162px;top:442px;width:343px;height:1.5px;background:#cde4ec"></div>
<div class="a" style="left:2162px;top:516px;width:343px;height:1.5px;background:#cde4ec"></div>
<div class="a td" style="left:2162px;top:369px;width:190px;line-height:74px">SL with K bearing</div>
<div class="a td" style="left:2352px;top:369px;width:153px;line-height:74px">20/30-2</div>
<div class="a td" style="left:2162px;top:443px;width:190px;line-height:74px">SL with K vault</div>
<div class="a td" style="left:2352px;top:453px;width:153px;line-height:27px">20/25-2<br>“ghosting”</div>
<div class="a td" style="left:2162px;top:517px;width:190px;line-height:74px">HOA SL</div>
<div class="a td" style="left:2352px;top:517px;width:153px;line-height:74px">20/25</div>
<div class="a cap" style="left:2157px;top:607px;width:348px;font-size:23px;line-height:27.7px">
<div>Table 1. Comparison of OS VA</div>
<div>with SL bearing on the cornea</div>
<div>(habitual), SL with proper Sag</div>
<div>depth, and SL with HOA</div>
<div class="l">correction.</div>
</div>

<!-- Panel 6 -->
<div class="a hd" style="left:2163px;top:808px">CONCLUSION</div>
<div class="a bd" style="left:2163px;top:867.4px;width:340px;line-height:30.5px;letter-spacing:.8px">
<div>The initial lens, by bearing</div>
<div>on the cornea, reduced</div>
<div>HOAs and therefore</div>
<div>preferred by the patient.</div>
<div>When vaulting was</div>
<div>restored, the cornea</div>
<div>returned to its natural</div>
<div>shape, worsened HOAs.</div>
<div>This case demonstrates that</div>
<div>scleral lens fit can influence</div>
<div>HOAs and visual quality.</div>
<div>Therefore, these factors</div>
<div>should be carefully</div>
<div>considered when refitting a</div>
<div>scleral lens for an individual</div>
<div>who is already accustomed</div>
<div class="l">to wearing such lenses.</div>
</div>

</body></html>
